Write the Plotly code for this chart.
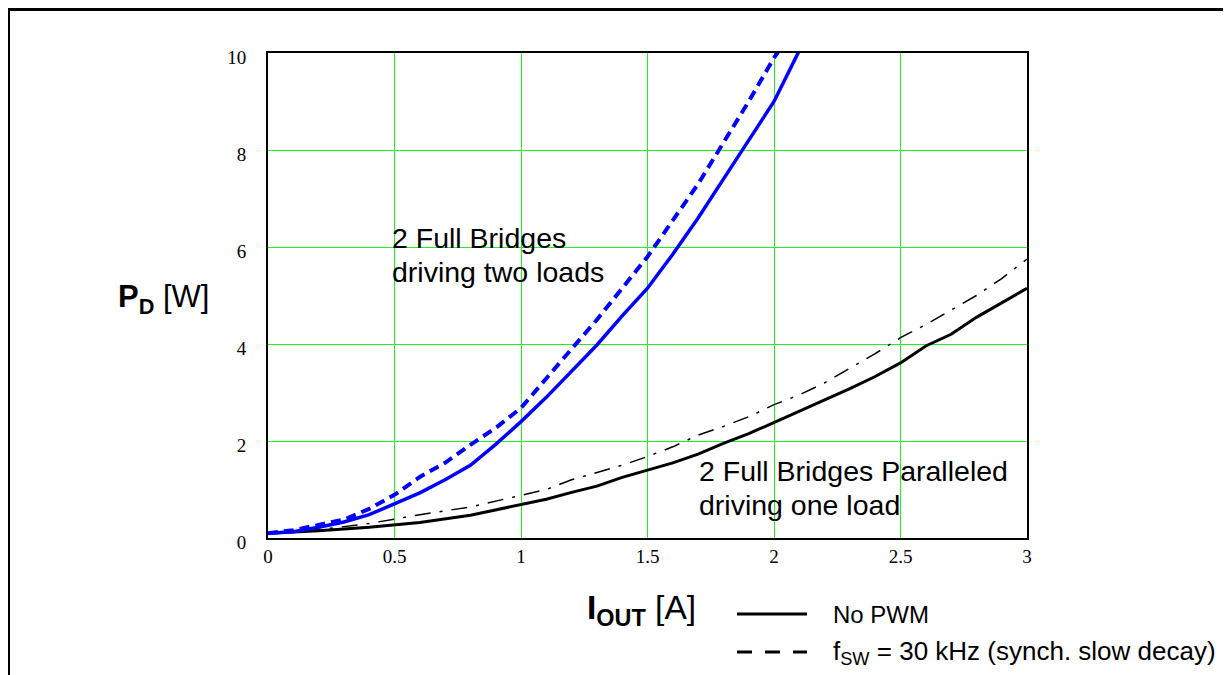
import plotly.graph_objects as go

# ---- data ----
x_two_solid = [0, 0.1, 0.2, 0.3, 0.4, 0.5, 0.6, 0.7, 0.8, 0.9, 1.0, 1.1, 1.2, 1.3, 1.4, 1.5, 1.6, 1.7, 1.8, 1.9, 2.0, 2.1]
y_two_solid = [0.1, 0.13, 0.22, 0.33, 0.48, 0.7, 0.93, 1.2, 1.5, 1.93, 2.4, 2.9, 3.45, 3.98, 4.58, 5.15, 5.85, 6.6, 7.4, 8.2, 9.0, 10.05]

x_two_dash = [0, 0.1, 0.2, 0.3, 0.4, 0.5, 0.6, 0.7, 0.8, 0.9, 1.0, 1.1, 1.2, 1.3, 1.4, 1.5, 1.6, 1.7, 1.8, 1.9, 2.0, 2.02]
y_two_dash = [0.1, 0.16, 0.27, 0.38, 0.6, 0.89, 1.26, 1.55, 1.92, 2.27, 2.68, 3.3, 3.9, 4.5, 5.15, 5.8, 6.55, 7.3, 8.15, 9.0, 9.9, 10.05]

x_par_solid = [0, 0.2, 0.4, 0.6, 0.8, 1.0, 1.1, 1.2, 1.3, 1.4, 1.5, 1.6, 1.7, 1.8, 1.9, 2.0, 2.1, 2.2, 2.3, 2.4, 2.5, 2.6, 2.7, 2.8, 2.9, 3.0]
y_par_solid = [0.1, 0.15, 0.22, 0.32, 0.47, 0.68, 0.8, 0.94, 1.07, 1.25, 1.4, 1.55, 1.73, 1.95, 2.15, 2.38, 2.62, 2.85, 3.08, 3.33, 3.61, 3.96, 4.2, 4.55, 4.85, 5.15]

x_par_dash = [0, 0.2, 0.4, 0.5, 0.6, 0.8, 1.0, 1.1, 1.2, 1.3, 1.4, 1.5, 1.6, 1.7, 1.8, 1.9, 2.0, 2.1, 2.2, 2.3, 2.4, 2.5, 2.6, 2.7, 2.8, 2.9, 3.0]
y_par_dash = [0.1, 0.17, 0.3, 0.39, 0.48, 0.64, 0.89, 1.0, 1.2, 1.35, 1.5, 1.68, 1.88, 2.12, 2.3, 2.5, 2.75, 2.95, 3.2, 3.5, 3.8, 4.13, 4.4, 4.7, 5.0, 5.35, 5.75]

x_ticks = [0, 0.5, 1, 1.5, 2, 2.5, 3]
x_tick_labels = ["0", "0.5", "1", "1.5", "2", "2.5", "3"]
y_ticks = [0, 2, 4, 6, 8, 10]
y_tick_labels = ["0", "2", "4", "6", "8", "10"]

fig = go.Figure()
fig.add_trace(go.Scatter(x=x_par_dash, y=y_par_dash, mode="lines",
                         line=dict(color="black", width=1.5, dash="16px,9px,3px,9px"), showlegend=False))
fig.add_trace(go.Scatter(x=x_par_solid, y=y_par_solid, mode="lines",
                         line=dict(color="black", width=3), showlegend=False))
fig.add_trace(go.Scatter(x=x_two_dash, y=y_two_dash, mode="lines",
                         line=dict(color="#0000ff", width=4, dash="10px,6px"), showlegend=False))
fig.add_trace(go.Scatter(x=x_two_solid, y=y_two_solid, mode="lines",
                         line=dict(color="#0000ff", width=3.5), showlegend=False))

# page is shown with an 8px body margin
OFF = 8
W, H = 1231 - OFF, 675 - OFF
# plot area in page pixels
PL, PR, PT, PB = 268, 1027, 53, 538
L, R, T, B = PL - OFF, PR - OFF, PT - OFF, PB - OFF
pw, ph = R - L, B - T

def px(xpage):
    return (xpage - PL) / pw

def py(ypage):
    return (PB - ypage) / ph

def dx(xpage):
    return (xpage - PL) / pw * 3.0

def dy(ypage):
    return (PB - ypage) / ph * 10.0

shapes = [
    # outer frame
    dict(type="line", xref="paper", yref="paper", x0=px(8.5), y0=py(700), x1=px(8.5), y1=py(9.5),
         line=dict(color="black", width=3)),
    dict(type="line", xref="paper", yref="paper", x0=px(7), y0=py(9.5), x1=px(1240), y1=py(9.5),
         line=dict(color="black", width=3)),
    # legend keys
    dict(type="line", xref="paper", yref="paper", x0=px(737), y0=py(614), x1=px(807), y1=py(614),
         line=dict(color="black", width=3)),
    dict(type="line", xref="paper", yref="paper", x0=px(737), y0=py(652), x1=px(807), y1=py(652),
         line=dict(color="black", width=3, dash="15px,13px")),
]

sans = "Liberation Sans, Arial, sans-serif"
annotations = [
    dict(x=dx(390), y=dy(238), xref="x", yref="y", text="2 Full Bridges", showarrow=False,
         xanchor="left", yanchor="middle", font=dict(family=sans, size=28.5, color="black")),
    dict(x=dx(390), y=dy(272), xref="x", yref="y", text="driving two loads", showarrow=False,
         xanchor="left", yanchor="middle", font=dict(family=sans, size=28.5, color="black")),
    dict(x=dx(697), y=dy(471), xref="x", yref="y", text="2 Full Bridges Paralleled", showarrow=False,
         xanchor="left", yanchor="middle", font=dict(family=sans, size=28.5, color="black")),
    dict(x=dx(697), y=dy(505), xref="x", yref="y", text="driving one load", showarrow=False,
         xanchor="left", yanchor="middle", font=dict(family=sans, size=28.5, color="black")),
    dict(x=px(116), y=py(299), xref="paper", yref="paper", text="<b>P<sub>D</sub></b> [W]", showarrow=False,
         xanchor="left", yanchor="middle", font=dict(family=sans, size=31, color="black")),
    dict(x=px(585), y=py(610), xref="paper", yref="paper", text="<b>I<sub>OUT</sub></b> [A]", showarrow=False,
         xanchor="left", yanchor="middle", font=dict(family=sans, size=33.5, color="black")),
    dict(x=px(831), y=py(614), xref="paper", yref="paper", text="No PWM", showarrow=False,
         xanchor="left", yanchor="middle", font=dict(family=sans, size=24, color="black")),
    dict(x=px(831), y=py(652), xref="paper", yref="paper", text="f<sub>SW</sub> = 30 kHz (synch. slow decay)",
         showarrow=False, xanchor="left", yanchor="middle", font=dict(family=sans, size=26, color="black")),
]

serif = "Liberation Serif, Times New Roman, serif"
fig.update_layout(
    width=W, height=H,
    margin=dict(l=L, r=W - R, t=T, b=H - B, pad=0),
    paper_bgcolor="white", plot_bgcolor="white",
    shapes=shapes, annotations=annotations,
    xaxis=dict(range=[0, 3], tickvals=x_ticks, ticktext=x_tick_labels, showgrid=True, gridcolor="#22ee22",
               gridwidth=1, showline=True, linecolor="black", linewidth=2, mirror=True, ticks="",
               zeroline=False, tickfont=dict(family=serif, size=19, color="black"), ticklabelstandoff=0),
    yaxis=dict(range=[0, 10], tickvals=y_ticks, ticktext=y_tick_labels, showgrid=True, gridcolor="#22ee22",
               gridwidth=1, showline=True, linecolor="black", linewidth=2, mirror=True, ticks="",
               zeroline=False, tickfont=dict(family=serif, size=19, color="black"), ticklabelstandoff=16,
               ticklabelshift=4),
)

fig.write_html("out.html")
